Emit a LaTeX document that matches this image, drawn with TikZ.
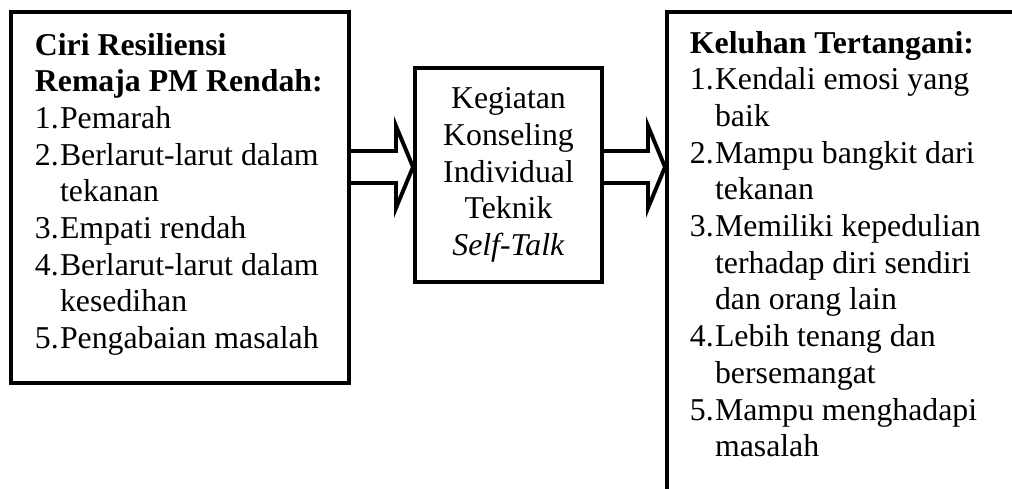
\documentclass[tikz,border=0pt]{standalone}
\usepackage{fontspec}
\setmainfont{Liberation Serif}
\usepackage{tikz}
\usetikzlibrary{calc}

\newcommand{\itemno}[1]{\makebox[0.79em][l]{#1}}
\newcommand{\contline}{\hspace*{0.79em}}

\begin{document}
\begin{tikzpicture}[x=0.025cm,y=-0.025cm,line width=2.8pt]
\tikzstyle{every node}=[font=\fontsize{22.6}{26.1}\selectfont];
\tikzstyle{box}=[draw,rectangle,inner sep=0pt];
\tikzstyle{list}=[inner sep=0pt,anchor=base west];
\clip (0,0) rectangle (1012,488);
% draw the three boxes
%   boxes
    \node[box,minimum width=8.45cm,minimum height=9.275cm] (ciri) at (180,197.5) {};
    \node[box,minimum width=4.675cm,minimum height=5.35cm,align=center] (konseling) at (508.5,175)
        {Kegiatan\\Konseling\\Individual\\Teknik\\\textit{Self-Talk}};
    \node[box,minimum width=9.075cm,minimum height=12.2cm] (keluhan) at (848.5,256) {};
%   texts
    \node[list] (ciritext) at (33,55) {\parbox[t]{9cm}{\raggedright
        \textbf{Ciri Resiliensi}\\
        \textbf{Remaja PM Rendah:}\\
        \itemno{1.}Pemarah\\
        \itemno{2.}Berlarut-larut dalam\\
        \contline tekanan\\
        \itemno{3.}Empati rendah\\
        \itemno{4.}Berlarut-larut dalam\\
        \contline kesedihan\\
        \itemno{5.}Pengabaian masalah}};
    \node[list] (keluhantext) at (688,53) {\parbox[t]{9cm}{\raggedright
        \textbf{Keluhan Tertangani:}\\
        \itemno{1.}Kendali emosi yang\\
        \contline baik\\
        \itemno{2.}Mampu bangkit dari\\
        \contline tekanan\\
        \itemno{3.}Memiliki kepedulian\\
        \contline terhadap diri sendiri\\
        \contline dan orang lain\\
        \itemno{4.}Lebih tenang dan\\
        \contline bersemangat\\
        \itemno{5.}Mampu menghadapi\\
        \contline masalah}};
%   hollow arrows
    \coordinate (tip1) at ($(konseling.west)+(0,-8)$);
    \coordinate (tip2) at ($(keluhan.west |- konseling.west)+(0,-8)$);
    \foreach \src/\tip in {ciri/tip1, konseling/tip2}
        \draw ($(\src.east |- \tip)+(0,-16)$) -- ($(\tip)+(-17,-16)$) -- ($(\tip)+(-17,-41)$)
            -- (\tip) -- ($(\tip)+(-17,41)$) -- ($(\tip)+(-17,16)$) -- ($(\src.east |- \tip)+(0,16)$);
\end{tikzpicture}
\end{document}
